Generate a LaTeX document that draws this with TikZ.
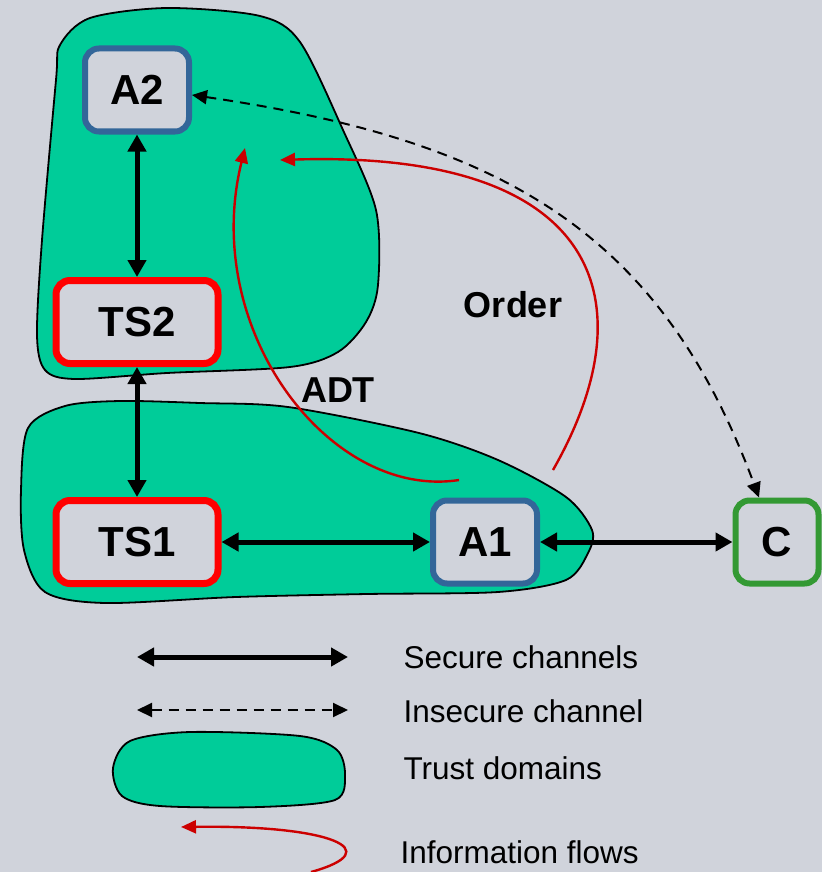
\documentclass[tikz,border=0pt]{standalone}
\usepackage{fontspec}
\setmainfont{Liberation Sans}
\usepackage{xcolor}
\usetikzlibrary{arrows.meta}
\definecolor{bggray}{HTML}{D0D3DB}
\definecolor{trustgreen}{HTML}{00CC99}
\definecolor{agentblue}{HTML}{336699}
\definecolor{flowred}{HTML}{CC0000}
\definecolor{clientgreen}{HTML}{339933}

\begin{document}
\begin{tikzpicture}[x=1pt, y=-1pt,
  nodebox/.style={draw, line width=6pt, rounded corners=14pt, fill=bggray,
    minimum width=104pt, minimum height=83pt, font=\fontsize{42}{42}\bfseries\selectfont},
  tsbox/.style={nodebox, draw=red, line width=7pt, minimum width=162pt},
  agent/.style={nodebox, draw=agentblue},
  client/.style={nodebox, draw=clientgreen, minimum width=83pt},
  trustdom/.style={fill=trustgreen, draw=black, line width=1.8pt},
  secure/.style={line width=5pt, {Triangle[length=17pt,width=18pt]}-{Triangle[length=17pt,width=18pt]}},
  insecure/.style={line width=2pt, dash pattern=on 10pt off 7pt,
    {Triangle[length=15pt,width=14pt]}-{Triangle[length=15pt,width=14pt]}},
  flow/.style={draw=flowred, line width=2.4pt, -{Triangle[length=15pt,width=13pt]}},
  lbl/.style={font=\fontsize{36}{36}\bfseries\selectfont},
  legtext/.style={anchor=west, font=\fontsize{31.5}{32}\selectfont}]

  \fill[bggray] (0,0) rectangle (822,872);
  \useasboundingbox (0,0) rectangle (822,872);

  % trust domains
  \draw[trustdom] plot[smooth cycle] coordinates {(60,45) (90,18) (167,8) (260,16) (300,42)
    (343,130) (376,210) (378,285) (366,322) (338,352) (290,367) (167,373) (75,379)
    (45,370) (37,335) (42,240) (56,80)};
  \draw[trustdom] plot[smooth cycle] coordinates {(28,428) (65,406) (120,401) (200,403)
    (288,407) (419,433) (498,460) (566,497) (592,530) (588,553) (566,580) (498,592)
    (367,594) (236,597) (105,603) (45,592) (24,550) (21,490)};

  % parties
  \node[agent] (a2) at (137,90) {A2};
  \node[tsbox] (ts2) at (137,322) {TS2};
  \node[tsbox] (ts1) at (137,542) {TS1};
  \node[agent] (a1) at (485,542) {A1};
  \node[client] (c) at (777,542) {C};

  % channels
  \draw[secure] (a2) -- (ts2);
  \draw[secure] (ts2) -- (ts1);
  \draw[secure] (ts1) -- (a1);
  \draw[secure] (a1) -- (c);
  \draw[insecure] ([yshift=-5pt]a2.east) .. controls (500,140) and (660,230) .. ([xshift=-18pt]c.north);

  % information flows
  \coordinate (adtstart) at (459,480);
  \coordinate (adtend) at (245,148);
  \coordinate (ordstart) at (553,470);
  \coordinate (ordend) at (280,160);
  \draw[flow] (adtstart) .. controls (330,500) and (200,330) .. (adtend);
  \draw[flow] (ordstart) .. controls (650,300) and (600,150) .. (ordend);
  \node[lbl] (order) at (513,305) {Order};
  \node[lbl] (adt) at (338,390) {ADT};

  % legend
  \coordinate (sec1) at (137,657);
  \coordinate (sec2) at (348,657);
  \coordinate (ins1) at (137,710);
  \coordinate (ins2) at (348,710);
  \coordinate (lfstart) at (311,872);
  \coordinate (lfend) at (181,827);
  \draw[secure] (sec1) -- (sec2);
  \draw[insecure] (ins1) -- (ins2);
  \draw[trustdom] plot[smooth cycle] coordinates {(130,741) (190,732) (300,736) (337,750)
    (345,775) (335,800) (260,807) (160,806) (122,796) (113,768)};
  \draw[flow] (lfstart) .. controls (390,850) and (330,825) .. (lfend);
  \node[legtext] (secl) at (400,657) {Secure channels};
  \node[legtext] (insl) at (400,711) {Insecure channel};
  \node[legtext] (trl) at (400,768) {Trust domains};
  \node[legtext] (infl) at (397,852) {Information flows};
\end{tikzpicture}
\end{document}
